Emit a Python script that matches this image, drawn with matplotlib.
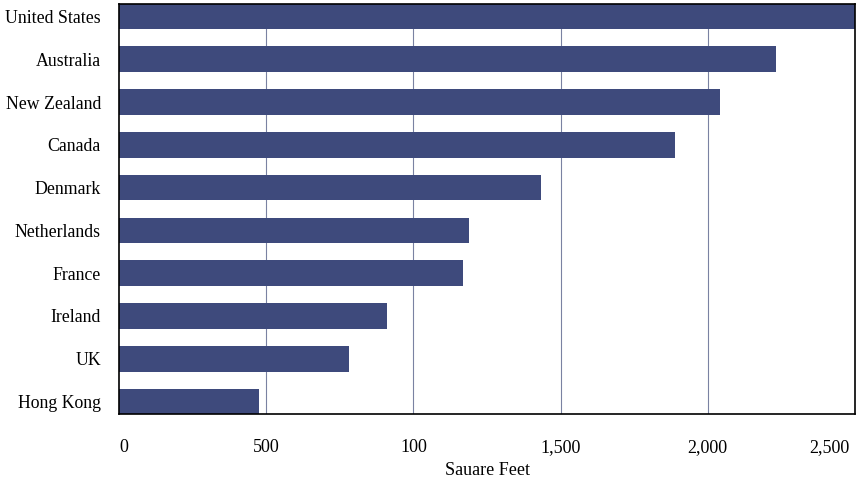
import matplotlib.pyplot as plt
import matplotlib.transforms as mtransforms
import numpy as np

# Average new-home floor area by country
countries = ['United States', 'Australia', 'New Zealand', 'Canada', 'Denmark',
             'Netherlands', 'France', 'Ireland', 'UK', 'Hong Kong']
square_feet = [2550, 2230, 2040, 1890, 1435, 1190, 1170, 910, 780, 475]

xticks = [0, 500, 1000, 1500, 2000, 2500]
xticklabels = ['0', '500', '100', '1,500', '2,000', '2,500']

plt.rcParams['font.family'] = ['Liberation Serif', 'DejaVu Serif']

fig = plt.figure(figsize=(8.57, 4.83), dpi=100)
ax = fig.add_axes([119 / 857, 1 - 414 / 483, 736 / 857, 410 / 483])

# Top country at the top
ypos = np.arange(len(countries))[::-1]
ax.barh(ypos, square_feet, height=0.6, color='#3e4a7c', zorder=2)

ax.set_xlim(0, 2500)
ax.set_ylim(-0.29, len(countries) - 1 + 0.29)

# Vertical gridlines behind the bars
for x in xticks[1:-1]:
    ax.axvline(x, color='#7a82a2', linewidth=0.8, zorder=1)

ax.set_xticks(xticks)
ax.set_xticklabels(xticklabels, fontsize=13)
ax.set_yticks(ypos)
ax.set_yticklabels(countries, fontsize=12.8)
ax.tick_params(axis='both', length=0)
ax.tick_params(axis='x', pad=18)
ax.tick_params(axis='y', pad=13)

# Keep the end labels inside the frame
xt = ax.get_xticklabels()
xt[0].set_ha('left')
xt[-1].set_ha('right')
shift = mtransforms.ScaledTranslation(-6 / 100, 0, fig.dpi_scale_trans)
xt[-1].set_transform(xt[-1].get_transform() + shift)

ax.set_xlabel('Sauare Feet', fontsize=13, labelpad=4)

for side in ['left', 'bottom', 'right', 'top']:
    ax.spines[side].set_color('black')
    ax.spines[side].set_linewidth(1.2)

fig.savefig('out.png', dpi=100)
